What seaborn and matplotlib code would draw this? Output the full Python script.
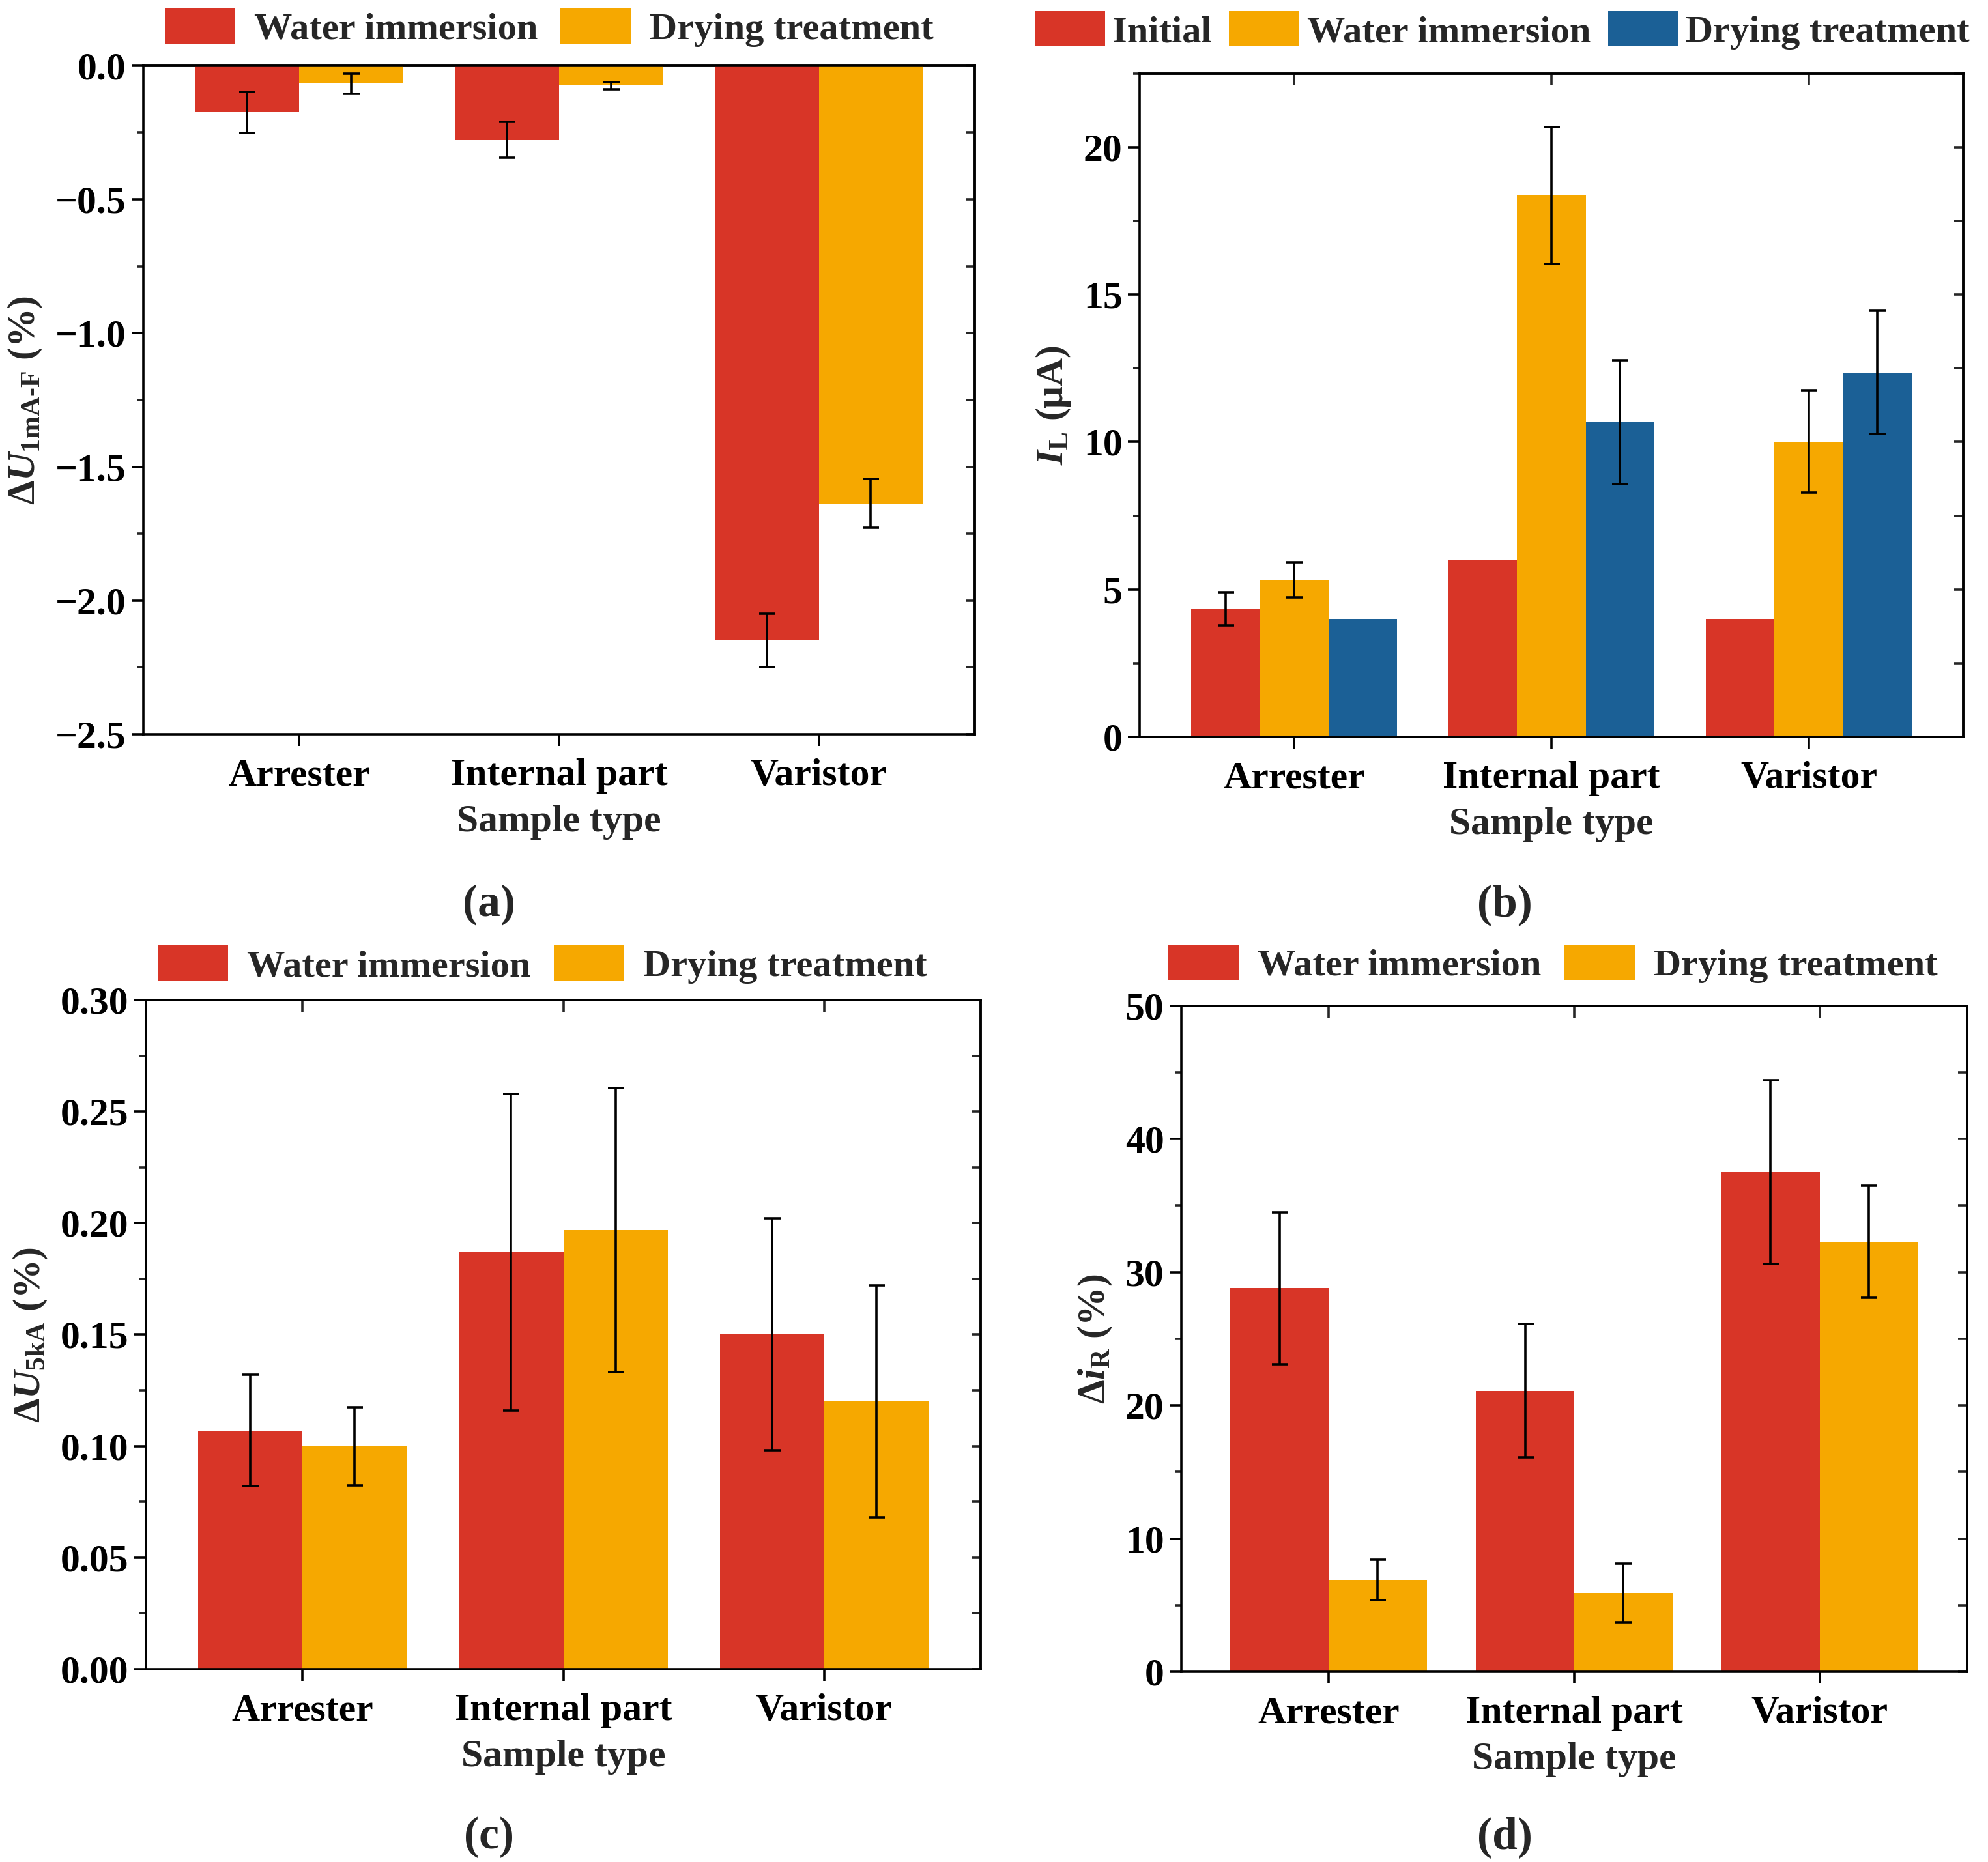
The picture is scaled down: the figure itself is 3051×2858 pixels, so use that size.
import numpy as np
import pandas as pd
import seaborn as sns
import matplotlib.pyplot as plt
from matplotlib.ticker import MultipleLocator

# === Data ===
samples = ['Arrester', 'Internal part', 'Varistor']
two_states = ['Water immersion', 'Drying treatment']
three_states = ['Initial', 'Water immersion', 'Drying treatment']

# (a) change of 1 mA reference voltage (%)
a_water = [-0.174, -0.277, -2.149]
a_water_err = [0.077, 0.067, 0.100]
a_dry = [-0.067, -0.074, -1.637]
a_dry_err = [0.038, 0.013, 0.091]

# (b) leakage current (uA)
b_initial = [4.34, 6.02, 4.00]
b_initial_err = [0.57, np.nan, np.nan]
b_water = [5.33, 18.36, 10.02]
b_water_err = [0.60, 2.32, 1.74]
b_dry = [4.00, 10.67, 12.36]
b_dry_err = [np.nan, 2.10, 2.09]

# (c) change of 5 kA residual voltage (%)
c_water = [0.107, 0.187, 0.150]
c_water_err = [0.025, 0.071, 0.052]
c_dry = [0.100, 0.197, 0.120]
c_dry_err = [0.0175, 0.0637, 0.052]

# (d) change of resistive current (%)
d_water = [28.8, 21.1, 37.5]
d_water_err = [5.7, 5.0, 6.9]
d_dry = [6.9, 5.9, 32.3]
d_dry_err = [1.5, 2.2, 4.2]

red, orange, blue = '#D83527', '#F6A800', '#1B6096'

# === Style ===
sns.set_style('ticks')
plt.rcParams['font.family'] = ['Liberation Serif', 'DejaVu Serif']
plt.rcParams['font.weight'] = 'bold'
plt.rcParams['axes.labelweight'] = 'bold'
plt.rcParams['font.size'] = 21.5
plt.rcParams['mathtext.fontset'] = 'custom'
plt.rcParams['mathtext.rm'] = 'Liberation Serif:bold'
plt.rcParams['mathtext.it'] = 'Liberation Serif:italic:bold'
plt.rcParams['mathtext.bf'] = 'Liberation Serif:bold'


def long_frame(states, values, errs):
    rows = []
    for state, vals, ers in zip(states, values, errs):
        for s, v, e in zip(samples, vals, ers):
            rows.append({'sample': s, 'state': state, 'value': v, 'err': e})
    return pd.DataFrame(rows)


def draw_panel(ax, df, states, colors, ylim, major, minor, ylabel, leg_x, leg_y, leg_kw):
    sns.barplot(data=df, x='sample', y='value', hue='state', order=samples,
                hue_order=states, palette=colors, errorbar=None,
                width=0.8, linewidth=0, saturation=1, ax=ax)
    # error bars at the bar centres that seaborn placed
    for cont, state in zip(ax.containers, states):
        sub = df[df['state'] == state].set_index('sample').loc[samples]
        xs = [p.get_x() + p.get_width() / 2 for p in cont.patches]
        ax.errorbar(xs, sub['value'], yerr=sub['err'], fmt='none', ecolor='black',
                    elinewidth=1.3, capsize=4.5, capthick=1.3, zorder=5)
    ax.set_xlim(-0.6, 2.6)
    ax.set_ylim(*ylim)
    ax.yaxis.set_major_locator(MultipleLocator(major))
    ax.yaxis.set_minor_locator(MultipleLocator(minor))
    ax.set_xlabel('Sample type', labelpad=6)
    ax.set_ylabel(ylabel, labelpad=6)
    for sp in ax.spines.values():
        sp.set_linewidth(1.3)
        sp.set_color('black')
    ax.tick_params(which='major', direction='out', length=6.5, width=1.3, pad=3, colors='black')
    ax.tick_params(which='minor', direction='out', length=3.5, width=1.3)
    ax.tick_params(axis='x', pad=7)
    # mirrored ticks pointing inwards
    right = ax.secondary_yaxis('right')
    right.yaxis.set_major_locator(MultipleLocator(major))
    right.yaxis.set_minor_locator(MultipleLocator(minor))
    right.tick_params(which='both', direction='in', length=5, width=1.3, labelright=False)
    right.spines['right'].set_linewidth(1.3)
    top = ax.secondary_xaxis('top')
    top.set_xticks([0, 1, 2])
    top.tick_params(direction='in', length=6.5, width=1.3, labeltop=False)
    top.spines['top'].set_linewidth(1.3)
    sns.move_legend(ax, 'center', bbox_to_anchor=(leg_x, leg_y), ncol=len(states),
                    frameon=False, title=None, handlelength=1.85, handleheight=1.05,
                    fontsize=21, **leg_kw)


fig = plt.figure(figsize=(15.255, 14.29), dpi=200)
ax_a = fig.add_axes([0.0721, 0.6057, 0.4182, 0.3590])
ax_b = fig.add_axes([0.5733, 0.6043, 0.4143, 0.3562])
ax_c = fig.add_axes([0.0734, 0.1036, 0.4199, 0.3593])
ax_d = fig.add_axes([0.5942, 0.1022, 0.3953, 0.3576])

df_a = long_frame(two_states, [a_water, a_dry], [a_water_err, a_dry_err])
draw_panel(ax_a, df_a, two_states, [red, orange], (-2.5, 0.0), 0.5, 0.25,
           r'$\Delta\mathit{U}_{\mathrm{1mA\text{-}F}}$ (%)', 0.488, 1.057,
           dict(handletextpad=0.5, columnspacing=0.6))

df_b = long_frame(three_states, [b_initial, b_water, b_dry],
                  [b_initial_err, b_water_err, b_dry_err])
draw_panel(ax_b, df_b, three_states, [red, orange, blue], (0, 22.5), 5, 2.5,
           r'$\mathit{I}_{\mathrm{L}}$ (μA)', 0.44, 1.065,
           dict(handletextpad=0.2, columnspacing=0.45))

df_c = long_frame(two_states, [c_water, c_dry], [c_water_err, c_dry_err])
draw_panel(ax_c, df_c, two_states, [red, orange], (0, 0.30), 0.05, 0.025,
           r'$\Delta\mathit{U}_{\mathrm{5kA}}$ (%)', 0.475, 1.053,
           dict(handletextpad=0.5, columnspacing=0.6))

df_d = long_frame(two_states, [d_water, d_dry], [d_water_err, d_dry_err])
draw_panel(ax_d, df_d, two_states, [red, orange], (0, 50), 10, 5,
           r'$\Delta\mathit{i}_{\mathrm{R}}$ (%)', 0.473, 1.063,
           dict(handletextpad=0.5, columnspacing=0.6))

for label, x, y in [('(a)', 0.246, 0.514), ('(b)', 0.757, 0.514),
                    ('(c)', 0.246, 0.0133), ('(d)', 0.757, 0.0133)]:
    fig.text(x, y, label, ha='center', va='center', fontsize=25, fontweight='bold')

fig.savefig('out.png', dpi=200)
